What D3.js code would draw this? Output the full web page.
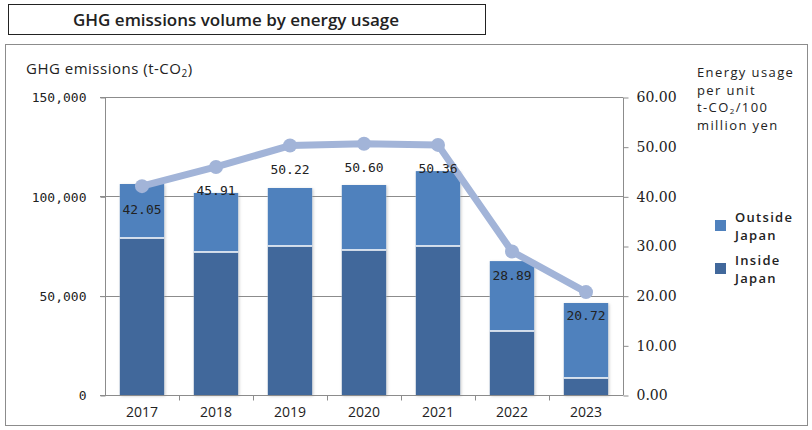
<!DOCTYPE html>
<html lang="en">
<head>
  <meta charset="UTF-8">
  <title>GHG emissions volume by energy usage</title>
  <script src="https://d3js.org/d3.v7.min.js"></script>
  <style>
    body { margin: 0; background: #fff; }
    text { font-family: "Open Sans", "Noto Sans", sans-serif; fill: #222; }
    .mono { font-family: "DejaVu Sans Mono", monospace; }
    .serif { font-family: "DejaVu Serif", serif; }
  </style>
</head>
<body>
  <div id="chart"></div>
  <script>
    // data
    const years = ["2017", "2018", "2019", "2020", "2021", "2022", "2023"];
    const insideJapan = [79000, 72000, 75000, 73000, 75000, 32200, 8600];
    const outsideJapan = [27200, 29700, 29200, 32700, 37700, 35200, 37700];
    const energyPerUnit = [42.05, 45.91, 50.22, 50.60, 50.36, 28.89, 20.72];
    const leftTicks = [0, 50000, 100000, 150000];
    const rightTicks = [0, 10, 20, 30, 40, 50, 60];

    const width = 812, height = 430;
    const plot = { left: 105, right: 623, top: 97, bottom: 395 };

    const colInside = "#41689b";
    const colOutside = "#4f81bd";
    const colLine = "#a2b4d8";
    const colGrid = "#8c8c8c";

    const svg = d3.select("#chart").append("svg")
      .attr("width", width).attr("height", height);

    const defs = svg.append("defs");
    defs.append("filter").attr("id", "shadow")
      .attr("x", "-20%").attr("y", "-20%").attr("width", "140%").attr("height", "140%")
      .append("feDropShadow")
      .attr("dx", 1).attr("dy", 1).attr("stdDeviation", 1.5)
      .attr("flood-color", "#888").attr("flood-opacity", 0.45);

    // title box
    svg.append("rect").attr("x", 8.5).attr("y", 4.5).attr("width", 477).attr("height", 30)
      .attr("fill", "#fff").attr("stroke", "#222").attr("stroke-width", 1);
    svg.append("text").attr("x", 73).attr("y", 26)
      .attr("textLength", 326).attr("lengthAdjust", "spacingAndGlyphs")
      .style("font-size", "17px").style("font-weight", 600).attr("fill", "#111")
      .text("GHG emissions volume by energy usage");

    // chart frame
    svg.append("rect").attr("x", 5.5).attr("y", 44.5).attr("width", 802).attr("height", 381)
      .attr("fill", "none").attr("stroke", "#8c8c8c").attr("stroke-width", 1);

    const x = d3.scaleBand().domain(years).range([plot.left, plot.right]).paddingInner(0.4).paddingOuter(0.2);
    const yL = d3.scaleLinear().domain([0, 150000]).range([plot.bottom, plot.top]);
    const yR = d3.scaleLinear().domain([0, 60]).range([plot.bottom, plot.top]);

    // gridlines on left ticks
    svg.append("g").selectAll("line").data(leftTicks.filter(d => d > 0)).join("line")
      .attr("x1", plot.left - 5).attr("x2", plot.right)
      .attr("y1", d => Math.round(yL(d)) + 0.5).attr("y2", d => Math.round(yL(d)) + 0.5)
      .attr("stroke", colGrid).attr("stroke-width", 1);

    // left axis
    const leftAxis = svg.append("g").attr("transform", `translate(${plot.left + 0.5},0.5)`)
      .call(d3.axisLeft(yL).tickValues(leftTicks).tickFormat(d3.format(",")).tickSize(5).tickPadding(14));
    leftAxis.select(".domain").attr("stroke", colGrid).attr("d", `M0,${plot.top}V${plot.bottom}`);
    leftAxis.selectAll(".tick line").attr("stroke", colGrid);
    leftAxis.selectAll("text").attr("class", "mono").style("font-size", "13px").attr("fill", "#222");

    // right axis
    const rightAxis = svg.append("g").attr("transform", `translate(${plot.right + 0.5},0.5)`)
      .call(d3.axisRight(yR).tickValues(rightTicks).tickFormat(d3.format(".2f")).tickSize(5).tickPadding(8));
    rightAxis.select(".domain").attr("stroke", colGrid).attr("d", `M0,${plot.top}V${plot.bottom}`);
    rightAxis.selectAll(".tick line").attr("stroke", colGrid);
    rightAxis.selectAll("text").attr("class", "serif").style("font-size", "14px").attr("fill", "#222");

    // bottom axis with ticks on band boundaries
    const bottom = svg.append("g").attr("transform", `translate(0,${plot.bottom + 0.5})`);
    bottom.append("line").attr("x1", plot.left - 5).attr("x2", plot.right)
      .attr("stroke", colGrid);
    const step = x.step();
    const bounds = years.slice(1).map(y => x(y) - step * x.paddingInner() / 2);
    bottom.selectAll(".bt").data(bounds).join("line").attr("class", "bt")
      .attr("x1", d => Math.round(d) + 0.5).attr("x2", d => Math.round(d) + 0.5)
      .attr("y1", 0).attr("y2", 5).attr("stroke", colGrid);
    bottom.selectAll("text").data(years).join("text")
      .attr("x", d => x(d) + x.bandwidth() / 2).attr("y", 21)
      .attr("text-anchor", "middle").style("font-size", "14px").text(d => d);

    // stacked bars
    const stackData = years.map((y, i) => ({ year: y, inside: insideJapan[i], outside: outsideJapan[i] }));
    const series = d3.stack().keys(["inside", "outside"])(stackData);
    const colors = { inside: colInside, outside: colOutside };

    const barG = svg.append("g");
    barG.selectAll("rect.shadow").data(stackData).join("rect").attr("class", "shadow")
      .attr("x", d => x(d.year)).attr("width", x.bandwidth())
      .attr("y", d => yL(d.inside + d.outside)).attr("height", d => yL(0) - yL(d.inside + d.outside))
      .attr("fill", "#fff").attr("filter", "url(#shadow)");
    series.forEach(s => {
      barG.selectAll(null).data(s).join("rect")
        .attr("x", d => x(d.data.year)).attr("width", x.bandwidth())
        .attr("y", d => yL(d[1])).attr("height", d => yL(d[0]) - yL(d[1]))
        .attr("fill", colors[s.key]);
    });
    // white divider between segments
    barG.selectAll("line.div").data(stackData).join("line").attr("class", "div")
      .attr("x1", d => x(d.year)).attr("x2", d => x(d.year) + x.bandwidth())
      .attr("y1", d => yL(d.inside)).attr("y2", d => yL(d.inside))
      .attr("stroke", "#fff").attr("stroke-width", 1.5);

    // line series on right axis
    const cx = (d, i) => x(years[i]) + x.bandwidth() / 2;
    const line = d3.line().x((d, i) => cx(d, i)).y(d => yR(d));
    svg.append("path").datum(energyPerUnit).attr("d", line)
      .attr("fill", "none").attr("stroke", colLine).attr("stroke-width", 7)
      .attr("stroke-linejoin", "round");
    svg.append("g").selectAll("circle").data(energyPerUnit).join("circle")
      .attr("cx", cx).attr("cy", d => yR(d)).attr("r", 7).attr("fill", colLine);

    svg.append("g").selectAll("text").data(energyPerUnit).join("text")
      .attr("class", "mono")
      .attr("x", cx).attr("y", d => yR(d) + 28)
      .attr("text-anchor", "middle").style("font-size", "13px").attr("fill", "#111")
      .text(d => d.toFixed(2));

    // axis titles
    const lt = svg.append("text").attr("x", 26).attr("y", 74)
      .style("font-size", "15px").style("letter-spacing", "0.5px");
    lt.append("tspan").text("GHG emissions (t-CO");
    lt.append("tspan").attr("dy", 3).style("font-size", "10px").text("2");
    lt.append("tspan").attr("dy", -3).text(")");

    const rt = svg.append("g").style("font-size", "13px").style("letter-spacing", "1.4px");
    rt.append("text").attr("x", 697).attr("y", 77).text("Energy usage");
    rt.append("text").attr("x", 697).attr("y", 94.5).text("per unit");
    const t3 = rt.append("text").attr("x", 697).attr("y", 112);
    t3.append("tspan").text("t-CO");
    t3.append("tspan").attr("dy", 2).style("font-size", "8px").text("2");
    t3.append("tspan").attr("dy", -2).text("/100");
    rt.append("text").attr("x", 697).attr("y", 130).text("million yen");

    // legend
    const legend = [
      { name: ["Outside", "Japan"], color: colOutside, y: 220 },
      { name: ["Inside", "Japan"], color: colInside, y: 263 }
    ];
    const lg = svg.append("g").selectAll("g").data(legend).join("g")
      .attr("transform", d => `translate(715,${d.y})`);
    lg.append("rect").attr("width", 11).attr("height", 11).attr("fill", d => d.color);
    lg.append("text").attr("x", 20).attr("y", 2).style("font-size", "13px").style("font-weight", 600)
      .style("letter-spacing", "1.3px").text(d => d.name[0]);
    lg.append("text").attr("x", 20).attr("y", 19.5).style("font-size", "13px").style("font-weight", 600)
      .style("letter-spacing", "1.3px").text(d => d.name[1]);
  </script>
</body>
</html>
